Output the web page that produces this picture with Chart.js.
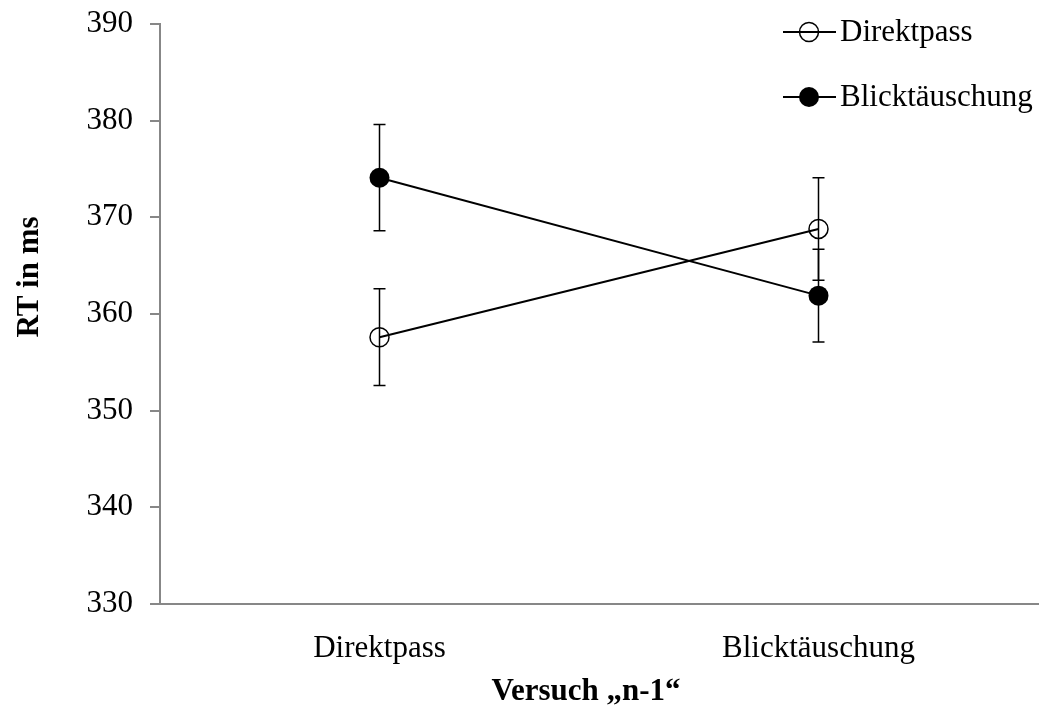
<!DOCTYPE html>
<html>
<head>
<meta charset="utf-8">
<script src="https://cdn.jsdelivr.net/npm/chart.js@4"></script>
<style>
  html, body { margin: 0; padding: 0; background: #fff; }
  #wrap { width: 1041px; height: 720px; }
</style>
</head>
<body>
<div id="wrap"><canvas id="rtChart" width="1041" height="720"></canvas></div>
<script>
// Reaction times per previous trial type ("n-1")
const categories = ['Direktpass', 'Blicktäuschung'];
const direktpassMeans = [357.6, 368.8];
const direktpassErrors = [5.0, 5.3];
const blickMeans = [374.1, 361.9];
const blickErrors = [5.5, 4.8];
const yTicks = [330, 340, 350, 360, 370, 380, 390];

const serif = "'Liberation Serif', 'Times New Roman', serif";
const axisGray = '#878787';

// Draws vertical error bars with caps for every dataset that carries `errors`
const errorBars = {
  id: 'errorBars',
  beforeDatasetsDraw(chart) {
    const ctx = chart.ctx;
    const yScale = chart.scales.y;
    ctx.save();
    ctx.strokeStyle = '#000';
    ctx.lineWidth = 1.5;
    chart.data.datasets.forEach((ds, i) => {
      const meta = chart.getDatasetMeta(i);
      meta.data.forEach((pt, j) => {
        const err = ds.errors[j];
        const top = yScale.getPixelForValue(ds.data[j] + err);
        const bottom = yScale.getPixelForValue(ds.data[j] - err);
        const x = pt.x;
        ctx.beginPath();
        ctx.moveTo(x, top);
        ctx.lineTo(x, bottom);
        ctx.moveTo(x - 6, top);
        ctx.lineTo(x + 6, top);
        ctx.moveTo(x - 6, bottom);
        ctx.lineTo(x + 6, bottom);
        ctx.stroke();
      });
    });
    ctx.restore();
  }
};

// Legend in the top-right corner plus the two axis titles
const annotations = {
  id: 'annotations',
  afterDraw(chart) {
    const ctx = chart.ctx;
    ctx.save();
    chart.data.datasets.forEach((ds, i) => {
      const y = 32 + i * 65;
      ctx.strokeStyle = '#000';
      ctx.lineWidth = 2;
      ctx.beginPath();
      ctx.moveTo(783, y);
      ctx.lineTo(836, y);
      ctx.stroke();
      ctx.beginPath();
      ctx.arc(809, y, ds.pointRadius, 0, Math.PI * 2);
      if (ds.pointBackgroundColor === '#000') {
        ctx.fillStyle = '#000';
        ctx.fill();
      } else {
        ctx.fillStyle = '#fff';
        ctx.fill();
        ctx.lineWidth = 1.5;
        ctx.stroke();
        ctx.beginPath();
        ctx.lineWidth = 2;
        ctx.moveTo(800, y);
        ctx.lineTo(818, y);
        ctx.stroke();
      }
      ctx.fillStyle = '#000';
      ctx.font = '31px ' + serif;
      ctx.textAlign = 'left';
      ctx.textBaseline = 'middle';
      ctx.fillText(ds.label, 840, y + 1);
    });

    ctx.font = 'bold 31px ' + serif;
    ctx.textAlign = 'center';
    ctx.textBaseline = 'middle';
    ctx.fillText('Versuch \u201En-1\u201C', 586, 692);

    ctx.translate(30, 277);
    ctx.rotate(-Math.PI / 2);
    ctx.fillText('RT in ms', 0, 0);
    ctx.restore();
  }
};

new Chart(document.getElementById('rtChart'), {
  type: 'line',
  data: {
    labels: categories,
    datasets: [
      {
        label: 'Direktpass',
        data: direktpassMeans,
        errors: direktpassErrors,
        borderColor: '#000',
        borderWidth: 2,
        pointRadius: 9.5,
        pointBorderWidth: 1.5,
        pointBorderColor: '#000',
        pointBackgroundColor: 'rgba(0,0,0,0)',
        fill: false
      },
      {
        label: 'Blicktäuschung',
        data: blickMeans,
        errors: blickErrors,
        borderColor: '#000',
        borderWidth: 2,
        pointRadius: 10,
        pointBorderWidth: 0,
        pointBorderColor: '#000',
        pointBackgroundColor: '#000',
        fill: false
      }
    ]
  },
  options: {
    responsive: false,
    animation: false,
    layout: { autoPadding: false, padding: { left: 0, right: 3, top: 24, bottom: 0 } },
    plugins: {
      legend: { display: false },
      tooltip: { enabled: false }
    },
    scales: {
      x: {
        offset: true,
        grid: { display: false },
        border: { display: true, color: axisGray, width: 2 },
        ticks: { color: '#000', font: { family: serif, size: 31 }, padding: 18 },
        afterFit: s => { s.height = 116; s.paddingLeft = 0; s.paddingRight = 0; }
      },
      y: {
        min: 330,
        max: 390,
        afterBuildTicks: s => { s.ticks = yTicks.map(v => ({ value: v })); },
        grid: { drawOnChartArea: false, drawTicks: true, tickLength: 10, color: axisGray, lineWidth: 2 },
        border: { display: true, color: axisGray, width: 2 },
        ticks: { color: '#000', font: { family: serif, size: 31 }, padding: 17 },
        afterFit: s => { s.width = 160; s.paddingTop = 0; s.paddingBottom = 0; }
      }
    }
  },
  plugins: [errorBars, annotations]
});
</script>
</body>
</html>
